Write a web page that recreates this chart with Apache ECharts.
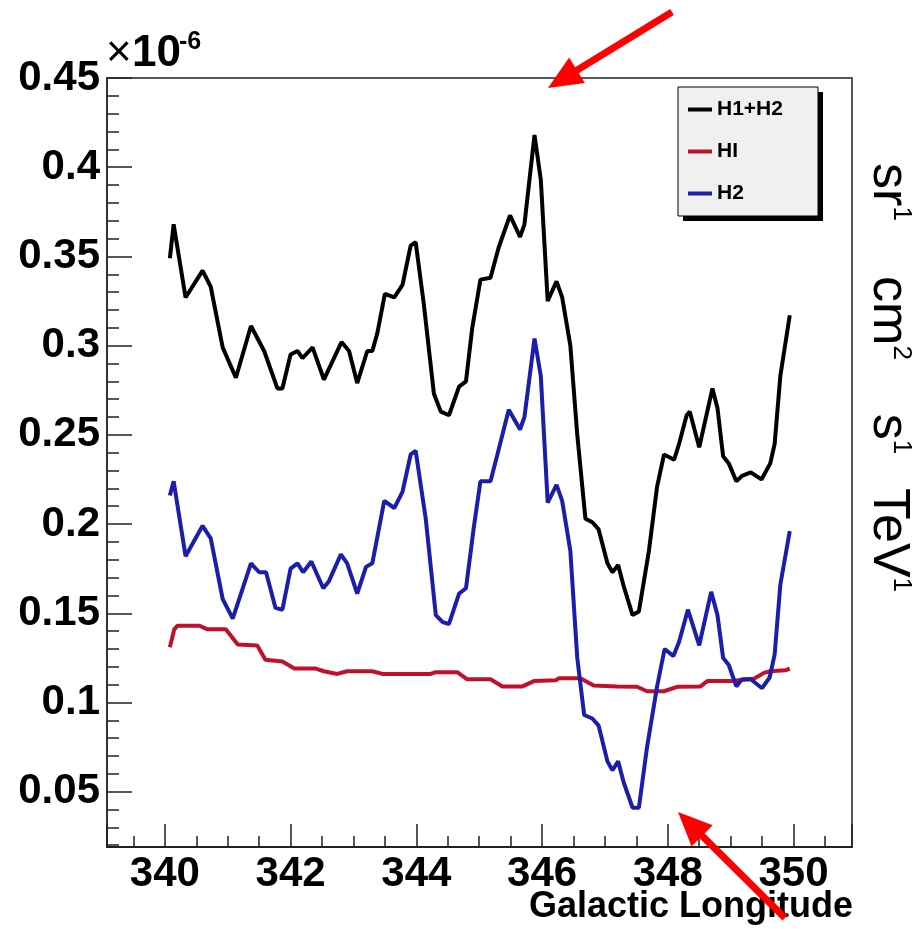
<!DOCTYPE html>
<html>
<head>
<meta charset="utf-8">
<script src="https://cdn.jsdelivr.net/npm/echarts@6/dist/echarts.min.js"></script>
<style>
  html, body { margin: 0; padding: 0; background: #ffffff; }
  #chart { width: 920px; height: 929px; }
</style>
</head>
<body>
<div id="chart"></div>
<script>
// Galactic longitude (deg) and flux (units of 1e-6 TeV^-1 s^-1 cm^-2 sr^-1)
const totalLon = [340.08, 340.14, 340.33, 340.60, 340.73, 340.92, 341.13, 341.37, 341.58, 341.79,
  341.87, 342.00, 342.11, 342.19, 342.35, 342.53, 342.81, 342.93, 343.06, 343.22,
  343.30, 343.38, 343.50, 343.65, 343.78, 343.91, 343.99, 344.12, 344.28, 344.39,
  344.52, 344.68, 344.79, 344.89, 345.02, 345.18, 345.31, 345.49, 345.65, 345.72,
  345.88, 345.98, 346.09, 346.23, 346.32, 346.45, 346.56, 346.69, 346.80, 346.90,
  347.04, 347.12, 347.21, 347.30, 347.44, 347.54, 347.70, 347.83, 347.94, 348.10,
  348.18, 348.30, 348.35, 348.50, 348.71, 348.79, 348.88, 348.97, 349.09, 349.18,
  349.32, 349.49, 349.63, 349.70, 349.79, 349.94];
const totalVal = [0.349, 0.368, 0.327, 0.342, 0.333, 0.299, 0.282, 0.311, 0.297, 0.276,
  0.276, 0.295, 0.297, 0.293, 0.299, 0.281, 0.302, 0.297, 0.279, 0.297,
  0.297, 0.307, 0.329, 0.327, 0.334, 0.356, 0.358, 0.323, 0.273, 0.263,
  0.261, 0.277, 0.280, 0.310, 0.337, 0.338, 0.355, 0.373, 0.361, 0.368,
  0.418, 0.393, 0.325, 0.336, 0.327, 0.300, 0.250, 0.203, 0.201, 0.197,
  0.178, 0.173, 0.177, 0.165, 0.149, 0.151, 0.185, 0.221, 0.239, 0.236,
  0.245, 0.261, 0.263, 0.243, 0.276, 0.265, 0.238, 0.234, 0.224, 0.227,
  0.229, 0.225, 0.234, 0.245, 0.283, 0.317];

const hiLon = [340.08, 340.15, 340.20, 340.55, 340.68, 340.97, 341.16, 341.47, 341.60, 341.87,
  342.06, 342.40, 342.53, 342.74, 342.90, 343.30, 343.46, 344.23, 344.31, 344.65,
  344.81, 345.18, 345.37, 345.69, 345.87, 346.22, 346.27, 346.61, 346.82, 347.19,
  347.51, 347.67, 347.94, 348.15, 348.52, 348.63, 349.00, 349.37, 349.53, 349.63,
  349.87, 349.94];
const hiVal = [0.131, 0.141, 0.143, 0.143, 0.141, 0.141, 0.1325, 0.132, 0.124, 0.123,
  0.119, 0.119, 0.1175, 0.116, 0.1175, 0.1175, 0.116, 0.116, 0.117, 0.117,
  0.113, 0.113, 0.109, 0.109, 0.112, 0.1125, 0.1136, 0.1136, 0.1095, 0.109,
  0.1088, 0.1063, 0.1063, 0.1088, 0.109, 0.112, 0.112, 0.1133, 0.1166, 0.1175,
  0.118, 0.119];

const h2Lon = [340.08, 340.14, 340.33, 340.60, 340.73, 340.92, 341.08, 341.37, 341.50, 341.61,
  341.76, 341.87, 342.00, 342.11, 342.20, 342.33, 342.52, 342.61, 342.80, 342.90,
  343.06, 343.20, 343.30, 343.49, 343.65, 343.78, 343.91, 343.99, 344.15, 344.31,
  344.42, 344.52, 344.68, 344.79, 344.91, 345.02, 345.18, 345.29, 345.47, 345.65,
  345.72, 345.88, 345.98, 346.09, 346.23, 346.32, 346.45, 346.56, 346.67, 346.80,
  346.90, 347.04, 347.12, 347.21, 347.30, 347.44, 347.54, 347.67, 347.83, 347.95,
  348.09, 348.18, 348.32, 348.50, 348.69, 348.79, 348.88, 348.97, 349.09, 349.18,
  349.32, 349.50, 349.62, 349.70, 349.79, 349.94];
const h2Val = [0.216, 0.224, 0.182, 0.199, 0.192, 0.158, 0.147, 0.178, 0.173, 0.173,
  0.153, 0.152, 0.175, 0.178, 0.173, 0.179, 0.164, 0.168, 0.183, 0.178,
  0.161, 0.176, 0.178, 0.213, 0.209, 0.218, 0.239, 0.241, 0.203, 0.149,
  0.145, 0.144, 0.161, 0.164, 0.197, 0.224, 0.224, 0.239, 0.264, 0.253,
  0.260, 0.304, 0.283, 0.212, 0.222, 0.213, 0.185, 0.125, 0.093, 0.091,
  0.087, 0.067, 0.062, 0.067, 0.055, 0.041, 0.041, 0.075, 0.109, 0.130,
  0.126, 0.134, 0.152, 0.132, 0.162, 0.149, 0.125, 0.121, 0.109, 0.113,
  0.113, 0.108, 0.114, 0.127, 0.166, 0.196];

const seriesNames = ['H1+H2', 'HI', 'H2'];
const seriesColors = ['#000000', '#c0102a', '#1a1eaa'];

// Unit words of the y quantity, each with its power
const unitWords = ['sr', 'cm', 's', 'TeV'];
const unitPowers = ['1', '2', '1', '1'];

// Annotation arrows: [tailX, tailY, tipX, tipY] in page pixels
const arrows = [[672, 12, 548, 88], [785, 918, 678, 812]];

const FONT = '"Liberation Sans", Arial, Helvetica, sans-serif';

const zip = (xs, ys) => xs.map((x, i) => [x, ys[i]]);

function arrowGraphics(a) {
  const [tx, ty, hx, hy] = a;
  const dx = hx - tx, dy = hy - ty;
  const len = Math.hypot(dx, dy);
  const ux = dx / len, uy = dy / len;
  const headLen = 34, halfW = 15;
  const bx = hx - ux * headLen, by = hy - uy * headLen;
  const nx = -uy, ny = ux;
  return [
    { type: 'line', z: 50, shape: { x1: tx, y1: ty, x2: bx + ux * 2, y2: by + uy * 2 },
      style: { stroke: '#ff0000', lineWidth: 7 } },
    { type: 'polygon', z: 50,
      shape: { points: [[hx, hy], [bx + nx * halfW, by + ny * halfW], [bx - nx * halfW, by - ny * halfW]] },
      style: { fill: '#ff0000' } }
  ];
}

// Units are written top-to-bottom down the right margin
const unitCentersY = [192, 318, 434, 540];
function unitGraphics() {
  return unitWords.map((w, i) => ({
    type: 'text', z: 30, x: 888, y: unitCentersY[i], rotation: -Math.PI / 2,
    style: {
      text: '{u|' + w + '}{s|' + unitPowers[i] + '}',
      align: 'center', verticalAlign: 'middle',
      rich: {
        u: { fontFamily: FONT, fontSize: 52, color: '#000', lineHeight: 52 },
        s: { fontFamily: FONT, fontSize: 26, color: '#000', verticalAlign: 'top', lineHeight: 52 }
      }
    }
  }));
}

const chart = echarts.init(document.getElementById('chart'), null, { renderer: 'canvas' });

const labelStyle = { color: '#000', fontFamily: FONT, fontWeight: 'bold', fontSize: 42, showMinLabel: false };

const option = {
  animation: false,
  backgroundColor: '#ffffff',
  grid: {
    left: 107, top: 78, right: 68, bottom: 82,
    show: true, borderColor: '#222', borderWidth: 1.5, backgroundColor: 'transparent'
  },
  xAxis: {
    type: 'value', min: 339.08, max: 350.93, splitNumber: 5,
    axisLine: { show: true, onZero: false, lineStyle: { color: '#222', width: 2 } },
    splitLine: { show: false },
    axisTick: { show: true, inside: true, length: 23, lineStyle: { color: '#222', width: 1.5 } },
    minorTick: { show: true, splitNumber: 4, length: 11, lineStyle: { color: '#222', width: 1.5 } },
    axisLabel: Object.assign({}, labelStyle, { margin: 6, showMaxLabel: false })
  },
  yAxis: {
    type: 'value', min: 0.019, max: 0.45, splitNumber: 8,
    axisLine: { show: true, onZero: false, lineStyle: { color: '#333', width: 2 } },
    splitLine: { show: false },
    axisTick: { show: true, inside: true, length: 25, lineStyle: { color: '#222', width: 1.5 } },
    minorTick: { show: true, splitNumber: 5, length: 12, lineStyle: { color: '#222', width: 1.5 } },
    axisLabel: Object.assign({}, labelStyle, { margin: 7, showMaxLabel: true })
  },
  legend: {
    data: seriesNames,
    orient: 'vertical',
    left: 683, top: 94,
    itemGap: 21,
    itemWidth: 24, itemHeight: 4,
    icon: 'rect',
    textStyle: { fontFamily: FONT, fontWeight: 'bold', fontSize: 21, color: '#000' },
    z: 20
  },
  series: [
    { name: seriesNames[0], type: 'line', data: zip(totalLon, totalVal), symbol: 'none',
      lineStyle: { color: seriesColors[0], width: 4 }, itemStyle: { color: seriesColors[0] }, z: 3 },
    { name: seriesNames[1], type: 'line', data: zip(hiLon, hiVal), symbol: 'none',
      lineStyle: { color: seriesColors[1], width: 4 }, itemStyle: { color: seriesColors[1] }, z: 2 },
    { name: seriesNames[2], type: 'line', data: zip(h2Lon, h2Val), symbol: 'none',
      lineStyle: { color: seriesColors[2], width: 4 }, itemStyle: { color: seriesColors[2] }, z: 4 }
  ],
  graphic: [
    // legend frame with drop shadow
    { type: 'rect', z: 10, shape: { x: 683, y: 92, width: 140, height: 129 }, style: { fill: '#000' } },
    { type: 'rect', z: 11, shape: { x: 678, y: 87, width: 140, height: 129 },
      style: { fill: '#f0f0f0', stroke: '#000', lineWidth: 1 } },
    // exponent of the y axis
    { type: 'text', z: 30, x: 106, y: 76,
      style: { text: '×', font: 'normal 44px ' + FONT, fill: '#000', verticalAlign: 'bottom' } },
    { type: 'text', z: 30, x: 132, y: 76,
      style: { text: '10', font: 'bold 44px ' + FONT, fill: '#000', verticalAlign: 'bottom' } },
    { type: 'text', z: 30, x: 179, y: 55,
      style: { text: '-6', font: 'bold 25px ' + FONT, fill: '#000', verticalAlign: 'bottom' } },
    // x axis title
    { type: 'text', z: 30, x: 853, y: 925,
      style: { text: 'Galactic Longitude', font: 'bold 36px ' + FONT, fill: '#000', align: 'right', verticalAlign: 'bottom' } }
  ].concat(unitGraphics(), arrowGraphics(arrows[0]), arrowGraphics(arrows[1]))
};

chart.setOption(option);
</script>
</body>
</html>
